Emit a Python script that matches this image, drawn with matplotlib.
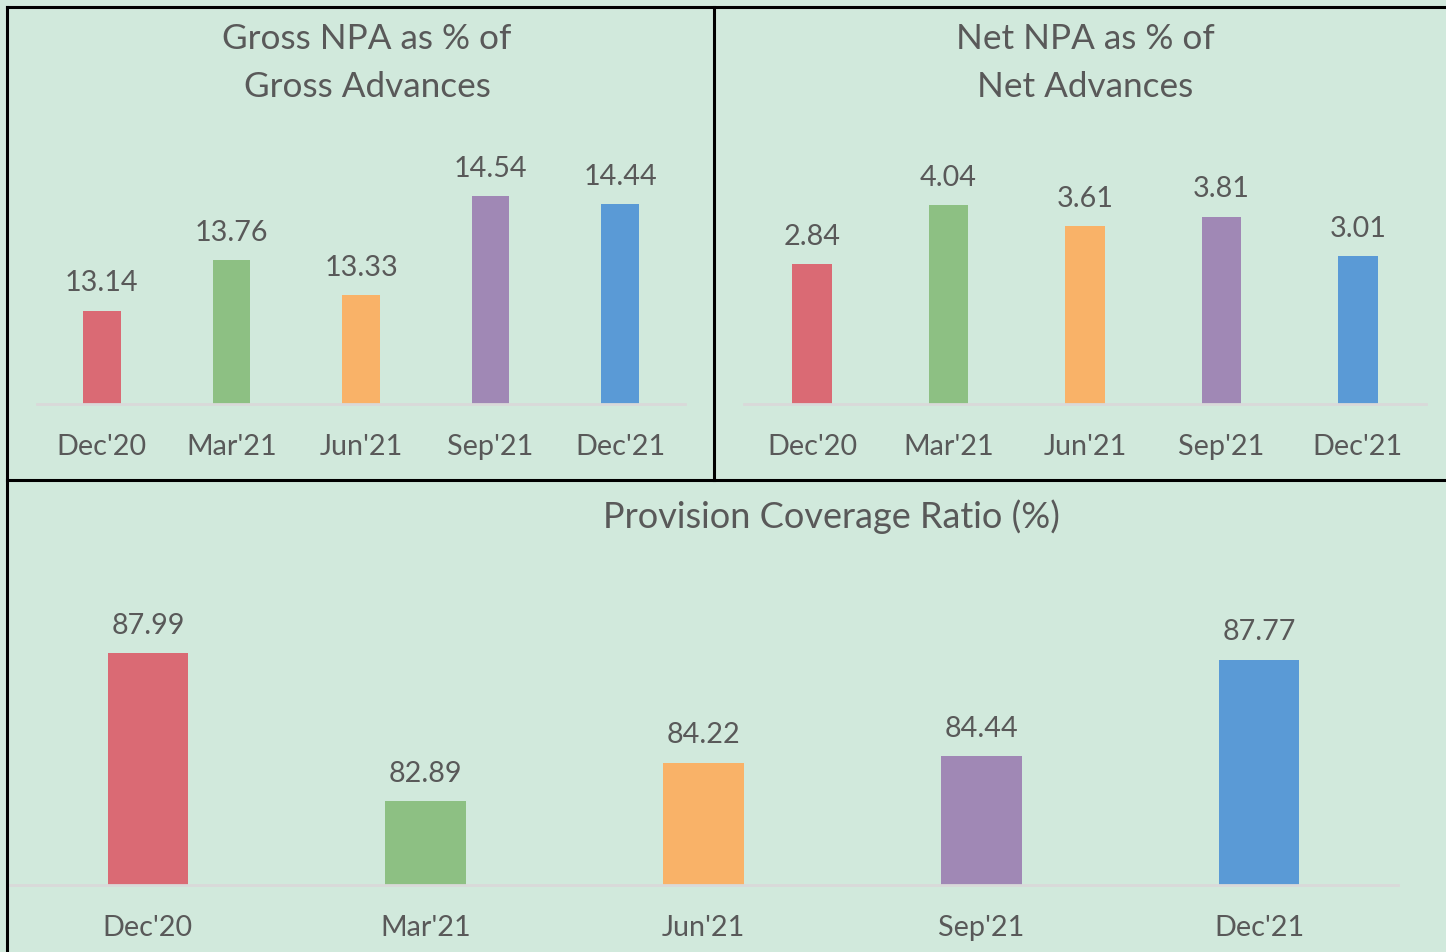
import matplotlib
matplotlib.use('Agg')
import matplotlib.pyplot as plt
from matplotlib.lines import Line2D

quarters = ["Dec'20", "Mar'21", "Jun'21", "Sep'21", "Dec'21"]
gross_npa = [13.14, 13.76, 13.33, 14.54, 14.44]
net_npa = [2.84, 4.04, 3.61, 3.81, 3.01]
pcr = [87.99, 82.89, 84.22, 84.44, 87.77]

colors = ['#DA6A74', '#8DC083', '#F9B268', '#A088B5', '#5A9AD6']
bg = '#D1E9DC'
txt = '#595959'

plt.rcParams['font.family'] = ['Lato', 'DejaVu Sans']

fig = plt.figure(figsize=(14.46, 9.53), dpi=100, facecolor=bg)


def bar_panel(rect, values, ylim, fmt='{:.2f}'):
    ax = fig.add_axes(rect)
    ax.set_facecolor(bg)
    x = range(len(values))
    ax.bar(x, values, width=0.29, color=colors, bottom=0)
    ax.set_xlim(-0.5, len(values) - 0.5)
    ax.set_ylim(*ylim)
    for s in ['top', 'right', 'left']:
        ax.spines[s].set_visible(False)
    ax.spines['bottom'].set_color('#D9D9D9')
    ax.spines['bottom'].set_linewidth(2)
    ax.set_yticks([])
    ax.set_xticks(list(x))
    ax.set_xticklabels(quarters, fontsize=20.7, color=txt)
    ax.tick_params(axis='x', length=0, pad=21)
    for i, v in zip(x, values):
        ax.annotate(fmt.format(v), xy=(i, v), xytext=(0, 11), textcoords='offset points',
                    ha='center', va='bottom', fontsize=20.7, color=txt, annotation_clip=False)
    return ax


W, H = 1446, 953
ax1 = bar_panel([37 / W, 1 - 405 / H, 648 / W, 245.5 / H], gross_npa, (12, 15))
ax2 = bar_panel([744 / W, 1 - 405 / H, 682 / W, 246 / H], net_npa, (0, 5))
ax3 = bar_panel([9 / W, 1 - 886 / H, 1389 / W, 290 / H], pcr, (80, 90))

fig.text(367 / W, 1 - 63 / H, 'Gross NPA as % of\nGross Advances', ha='center', va='center',
         fontsize=25.3, color=txt, linespacing=1.62)
fig.text(1085 / W, 1 - 63 / H, 'Net NPA as % of\nNet Advances', ha='center', va='center',
         fontsize=25.3, color=txt, linespacing=1.62)
fig.text(831 / W, 1 - 517 / H, 'Provision Coverage Ratio (%)', ha='center', va='center',
         fontsize=26, color=txt)


# panel borders
def fline(x0, y0, x1, y1):
    fig.add_artist(Line2D([x0 / W, x1 / W], [1 - y0 / H, 1 - y1 / H], color='black', lw=2.2,
                          transform=fig.transFigure))


fline(7, 8, 7, 953)
fline(7, 8, 1446, 8)
fline(714, 8, 714, 481)
fline(7, 481, 1446, 481)

fig.savefig('out.png', dpi=100, facecolor=bg)
